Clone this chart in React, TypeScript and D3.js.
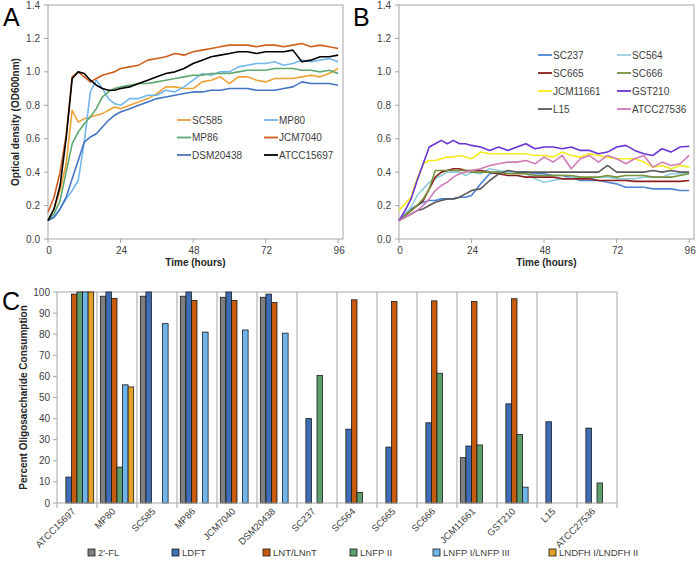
import React, { useEffect } from 'react';
import * as d3 from 'd3';

// sampling times (hours) shared by panels A and B
const hours = [0, 2, 4, 6, 8, 10, 12, 14, 16, 18, 20, 22, 24, 27, 30, 33, 36, 39, 42, 45, 48, 51, 54, 57, 60, 63, 66, 69, 72, 75, 78, 81, 84, 87, 90, 93, 96];

// Panel A growth curves
const sc585 = [0.11, 0.18, 0.29, 0.45, 0.77, 0.70, 0.72, 0.73, 0.74, 0.75, 0.77, 0.79, 0.78, 0.80, 0.82, 0.84, 0.87, 0.91, 0.91, 0.90, 0.90, 0.94, 0.95, 0.97, 0.93, 0.97, 0.97, 0.95, 0.94, 0.96, 0.96, 0.96, 0.97, 0.98, 0.97, 0.99, 1.02];
const mp80 = [0.11, 0.13, 0.18, 0.24, 0.29, 0.35, 0.58, 0.88, 0.95, 0.90, 0.84, 0.81, 0.80, 0.84, 0.84, 0.86, 0.86, 0.89, 0.88, 0.91, 0.95, 0.99, 0.98, 1.00, 1.00, 1.03, 1.04, 1.05, 1.05, 1.06, 1.04, 1.05, 1.07, 1.06, 1.07, 1.08, 1.06];
const mp86 = [0.11, 0.15, 0.23, 0.40, 0.57, 0.64, 0.69, 0.73, 0.78, 0.85, 0.88, 0.90, 0.91, 0.92, 0.93, 0.93, 0.94, 0.95, 0.96, 0.97, 0.98, 0.98, 0.99, 0.99, 0.99, 1.00, 1.01, 1.01, 1.01, 1.02, 1.02, 1.02, 1.01, 1.01, 1.00, 1.01, 0.99];
const jcm7040 = [0.16, 0.25, 0.40, 0.62, 0.97, 1.00, 0.97, 0.94, 0.96, 0.98, 0.99, 1.00, 1.02, 1.03, 1.04, 1.07, 1.08, 1.09, 1.11, 1.10, 1.12, 1.13, 1.14, 1.15, 1.16, 1.16, 1.16, 1.15, 1.16, 1.16, 1.15, 1.16, 1.17, 1.15, 1.16, 1.15, 1.14];
const dsm20438 = [0.11, 0.13, 0.18, 0.25, 0.36, 0.47, 0.58, 0.61, 0.63, 0.67, 0.71, 0.74, 0.76, 0.78, 0.80, 0.82, 0.84, 0.85, 0.86, 0.87, 0.88, 0.88, 0.89, 0.89, 0.90, 0.90, 0.90, 0.89, 0.89, 0.89, 0.90, 0.91, 0.94, 0.93, 0.93, 0.93, 0.92];
const atcc15697 = [0.11, 0.18, 0.32, 0.60, 0.96, 1.00, 0.99, 0.95, 0.92, 0.90, 0.89, 0.89, 0.90, 0.91, 0.93, 0.95, 0.97, 0.99, 1.00, 1.02, 1.05, 1.07, 1.09, 1.10, 1.11, 1.12, 1.12, 1.11, 1.12, 1.12, 1.12, 1.13, 1.06, 1.07, 1.09, 1.09, 1.10];

// Panel B growth curves
const sc237 = [0.11, 0.15, 0.18, 0.20, 0.22, 0.23, 0.23, 0.24, 0.24, 0.24, 0.25, 0.25, 0.26, 0.33, 0.39, 0.40, 0.40, 0.40, 0.40, 0.39, 0.39, 0.38, 0.38, 0.37, 0.35, 0.35, 0.35, 0.34, 0.33, 0.31, 0.31, 0.31, 0.30, 0.30, 0.30, 0.29, 0.29];
const sc564 = [0.11, 0.15, 0.19, 0.26, 0.30, 0.34, 0.36, 0.38, 0.40, 0.40, 0.40, 0.38, 0.40, 0.39, 0.42, 0.41, 0.40, 0.40, 0.39, 0.36, 0.34, 0.35, 0.36, 0.37, 0.37, 0.36, 0.37, 0.37, 0.36, 0.36, 0.36, 0.37, 0.37, 0.37, 0.39, 0.39, 0.39];
const sc665 = [0.11, 0.14, 0.17, 0.20, 0.23, 0.30, 0.37, 0.40, 0.41, 0.42, 0.42, 0.41, 0.41, 0.41, 0.40, 0.39, 0.38, 0.38, 0.37, 0.37, 0.37, 0.37, 0.36, 0.36, 0.36, 0.36, 0.35, 0.35, 0.35, 0.35, 0.345, 0.345, 0.345, 0.345, 0.345, 0.345, 0.35];
const sc666 = [0.11, 0.14, 0.17, 0.20, 0.24, 0.30, 0.41, 0.41, 0.41, 0.41, 0.41, 0.41, 0.40, 0.40, 0.40, 0.40, 0.39, 0.39, 0.39, 0.38, 0.38, 0.38, 0.38, 0.38, 0.37, 0.37, 0.37, 0.38, 0.37, 0.38, 0.38, 0.38, 0.37, 0.37, 0.37, 0.38, 0.39];
const jcm11661 = [0.17, 0.21, 0.25, 0.36, 0.45, 0.47, 0.47, 0.48, 0.49, 0.49, 0.50, 0.49, 0.48, 0.52, 0.51, 0.51, 0.51, 0.51, 0.51, 0.50, 0.50, 0.49, 0.52, 0.50, 0.49, 0.51, 0.50, 0.49, 0.48, 0.48, 0.48, 0.46, 0.43, 0.44, 0.42, 0.44, 0.43];
const gst210 = [0.11, 0.17, 0.24, 0.35, 0.45, 0.55, 0.57, 0.59, 0.57, 0.59, 0.57, 0.57, 0.56, 0.55, 0.53, 0.55, 0.53, 0.55, 0.57, 0.54, 0.55, 0.55, 0.54, 0.55, 0.53, 0.53, 0.51, 0.52, 0.55, 0.56, 0.53, 0.51, 0.50, 0.54, 0.52, 0.55, 0.555];
const l15 = [0.11, 0.13, 0.15, 0.17, 0.18, 0.20, 0.22, 0.23, 0.24, 0.24, 0.25, 0.27, 0.29, 0.30, 0.35, 0.39, 0.41, 0.40, 0.40, 0.40, 0.40, 0.40, 0.40, 0.40, 0.40, 0.40, 0.40, 0.44, 0.40, 0.40, 0.40, 0.40, 0.41, 0.40, 0.41, 0.40, 0.40];
const atcc27536 = [0.11, 0.13, 0.15, 0.17, 0.20, 0.24, 0.29, 0.32, 0.34, 0.37, 0.39, 0.40, 0.41, 0.42, 0.44, 0.45, 0.46, 0.46, 0.47, 0.45, 0.49, 0.46, 0.50, 0.42, 0.48, 0.50, 0.46, 0.50, 0.48, 0.45, 0.48, 0.50, 0.43, 0.46, 0.44, 0.45, 0.50];

// Panel C: percent consumption per strain
const strains = ['ATCC15697', 'MP80', 'SC585', 'MP86', 'JCM7040', 'DSM20438', 'SC237', 'SC564', 'SC665', 'SC666', 'JCM11661', 'GST210', 'L15', 'ATCC27536'];
const oligos = ["2'-FL", 'LDFT', 'LNT/LNnT', 'LNFP II', 'LNFP I/LNFP III', 'LNDFH I/LNDFH II'];
const fl2 = [0, 98, 98, 98, 97.5, 97.5, 0, 0, 0, 0, 21.5, 0, 0, 0];
const ldft = [12.3, 100, 100, 100, 100, 99, 40, 35, 26.5, 38, 27, 47, 38.5, 35.5];
const lnt = [99, 97, 0, 96, 96, 95, 0, 96.3, 95.5, 95.8, 95.5, 96.8, 0, 0];
const lnfp2 = [100, 17, 0, 0, 0, 0, 60.5, 5, 0, 61.5, 27.5, 32.5, 0, 9.5];
const lnfp13 = [100, 56, 85, 81, 82, 80.5, 0, 0, 0, 0, 0, 7.5, 0, 0];
const lndfh = [100, 55, 0, 0, 0, 0, 0, 0, 0, 0, 0, 0, 0, 0];

const FONT = "'Liberation Sans', Arial, sans-serif";
const TXT = '#404040';
const FRAME = '#a6a6a6';

interface Curve { name: string; values: number[]; color: string; }

const curvesA: Curve[] = [
  { name: 'SC585', values: sc585, color: '#eea236' },
  { name: 'MP80', values: mp80, color: '#72b6ec' },
  { name: 'MP86', values: mp86, color: '#5fa86f' },
  { name: 'JCM7040', values: jcm7040, color: '#d05e1c' },
  { name: 'DSM20438', values: dsm20438, color: '#4574c2' },
  { name: 'ATCC15697', values: atcc15697, color: '#000000' },
];

const curvesB: Curve[] = [
  { name: 'SC237', values: sc237, color: '#4f84d4' },
  { name: 'SC564', values: sc564, color: '#92cde0' },
  { name: 'SC665', values: sc665, color: '#8c1e1e' },
  { name: 'SC666', values: sc666, color: '#77933c' },
  { name: 'JCM11661', values: jcm11661, color: '#f4ec1c' },
  { name: 'GST210', values: gst210, color: '#6a34d2' },
  { name: 'L15', values: l15, color: '#595959' },
  { name: 'ATCC27536', values: atcc27536, color: '#d17cb9' },
];

const barColors = ['#7f7f7f', '#3f6db4', '#c55a11', '#5e9e6e', '#6fb4ea', '#e2a024'];
const barSeries = [fl2, ldft, lnt, lnfp2, lnfp13, lndfh];

const yOD = d3.scaleLinear().domain([0, 1.4]).range([239, 5]);
const odTicks = d3.range(0, 1.41, 0.2);
const hourTicks = [0, 24, 48, 72, 96];

interface LinePanelProps {
  left: number;
  right: number;
  curves: Curve[];
  legend: { x1: number; x2: number; y0: number; dy: number };
  letter: string;
  letterX: number;
  showYTitle: boolean;
}

function LinePanel({ left, right, curves, legend, letter, letterX, showYTitle }: LinePanelProps) {
  const x = d3.scaleLinear().domain([0, 97.6]).range([left, right]);
  const line = d3.line<number>()
    .x((_, i) => x(hours[i]))
    .y(d => yOD(d));
  const [top, bottom] = [yOD(1.4), yOD(0)];
  return (
    <g>
      <rect x={left} y={top} width={right - left} height={bottom - top} fill="none" stroke={FRAME} strokeWidth={1} />
      {odTicks.map(t => (
        <g key={t}>
          <line x1={left - 4} x2={left} y1={yOD(t)} y2={yOD(t)} stroke={FRAME} />
          <text x={left - 8} y={yOD(t) + 3.5} textAnchor="end" fontSize={10} fill={TXT}>{d3.format('.1f')(t)}</text>
        </g>
      ))}
      {hourTicks.map(t => (
        <g key={t}>
          <line x1={x(t)} x2={x(t)} y1={bottom} y2={bottom + 4} stroke={FRAME} />
          <text x={x(t) + 1} y={bottom + 15} textAnchor="middle" fontSize={10} fill={TXT}>{t}</text>
        </g>
      ))}
      {curves.map(c => (
        <path key={c.name} d={line(c.values) || ''} fill="none" stroke={c.color} strokeWidth={1.6} strokeLinejoin="round" />
      ))}
      {curves.map((c, i) => {
        const col = i % 2;
        const row = Math.floor(i / 2);
        const lx = col === 0 ? legend.x1 : legend.x2;
        const ly = legend.y0 + row * legend.dy;
        return (
          <g key={'lg' + c.name}>
            <line x1={lx} x2={lx + 14} y1={ly} y2={ly} stroke={c.color} strokeWidth={1.8} />
            <text x={lx + 15} y={ly + 3.5} fontSize={10} fill={TXT}>{c.name}</text>
          </g>
        );
      })}
      <text x={(left + right) / 2} y={bottom + 27} textAnchor="middle" fontSize={10} fontWeight="bold" fill="#262626">Time (hours)</text>
      {showYTitle && (
        <text transform={`translate(${left - 29},${(top + bottom) / 2}) rotate(-90)`} textAnchor="middle" fontSize={10} fontWeight="bold" fill="#262626">Optical density (OD600nm)</text>
      )}
      <text x={letterX} y={26} fontSize={25} fill="#000">{letter}</text>
    </g>
  );
}

function BarPanel() {
  const x = d3.scaleBand<string>().domain(strains).range([57, 617]).padding(0);
  const inner = d3.scaleBand<string>().domain(oligos).range([0, x.bandwidth()]).paddingInner(0).paddingOuter(0.6);
  const y = d3.scaleLinear().domain([0, 100]).range([503, 292]);
  const bounds = strains.map(s => x(s) as number).concat([617]);
  const legendX = [88, 172, 263, 350, 433, 549];
  return (
    <g>
      {bounds.slice(1).map((b, i) => (
        <line key={'g' + i} x1={b} x2={b} y1={y(100)} y2={y(0)} stroke={FRAME} />
      ))}
      <line x1={57} x2={617} y1={y(100)} y2={y(100)} stroke={FRAME} />
      {barSeries.map((vals, si) =>
        vals.map((v, ci) => v > 0 ? (
          <rect key={si + '-' + ci}
            x={(x(strains[ci]) as number) + (inner(oligos[si]) as number)}
            y={y(v)}
            width={inner.bandwidth()}
            height={y(0) - y(v)}
            fill={barColors[si]} stroke="#1a1a1a" strokeWidth={0.8} />
        ) : null)
      )}
      <line x1={57} x2={57} y1={y(100)} y2={y(0)} stroke={FRAME} />
      <line x1={57} x2={617} y1={y(0)} y2={y(0)} stroke={FRAME} />
      {d3.range(0, 101, 10).map(t => (
        <g key={'yt' + t}>
          <line x1={53} x2={57} y1={y(t)} y2={y(t)} stroke={FRAME} />
          <text x={50} y={y(t) + 3.5} textAnchor="end" fontSize={10} fill={TXT}>{t}</text>
        </g>
      ))}
      {bounds.map((b, i) => (
        <line key={'xt' + i} x1={b} x2={b} y1={y(0)} y2={y(0) + 5} stroke={FRAME} />
      ))}
      {strains.map(s => {
        const cx = (x(s) as number) + x.bandwidth() / 2;
        return (
          <text key={'xl' + s} transform={`translate(${cx - 1},${y(0) + 9}) rotate(-45)`} textAnchor="end" fontSize={9.5} fill={TXT}>{s}</text>
        );
      })}
      <text transform={`translate(27,${(y(0) + y(100)) / 2}) rotate(-90)`} textAnchor="middle" fontSize={10} fontWeight="bold" fill="#262626">Percent Oligosaccharide Consumption</text>
      {oligos.map((o, i) => (
        <g key={'leg' + o}>
          <rect x={legendX[i]} y={549} width={7} height={7} fill={barColors[i]} stroke="#1a1a1a" strokeWidth={0.8} />
          <text x={legendX[i] + 10} y={556} fontSize={9.5} fill={TXT}>{o}</text>
        </g>
      ))}
      <text x={2} y={310} fontSize={25} fill="#000">C</text>
    </g>
  );
}

export default function App() {
  useEffect(() => {
    document.body.style.margin = '0';
  }, []);
  return (
    <svg width={696} height={563} style={{ display: 'block', background: '#fff', fontFamily: FONT }}>
      <LinePanel left={48} right={343} curves={curvesA} legend={{ x1: 177, x2: 264, y0: 120, dy: 17.5 }} letter="A" letterX={3} showYTitle={true} />
      <LinePanel left={399} right={694} curves={curvesB} legend={{ x1: 538, x2: 617, y0: 55, dy: 18 }} letter="B" letterX={353} showYTitle={false} />
      <BarPanel />
    </svg>
  );
}
